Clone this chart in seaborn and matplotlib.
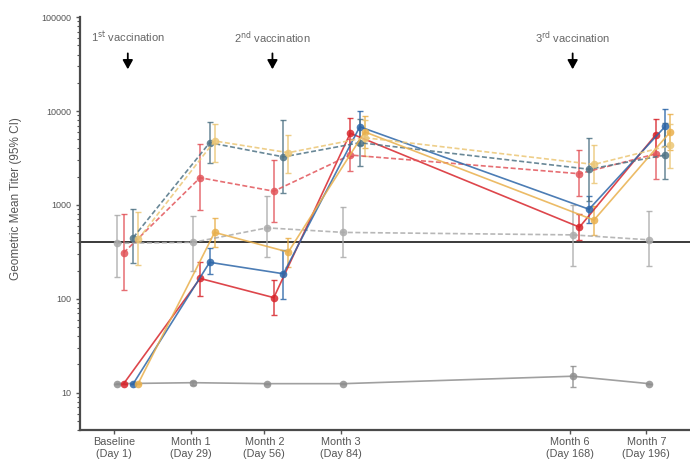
import matplotlib
matplotlib.use("Agg")
import matplotlib.pyplot as plt
from matplotlib.ticker import LogLocator, NullFormatter
import seaborn as sns
import pandas as pd
import numpy as np

sns.set_theme(style="ticks")
plt.rcParams["font.family"] = ["Liberation Sans", "DejaVu Sans"]

# Visit days and labels
days = [1, 29, 56, 84, 168, 196]
tick_labels = ["Baseline\n(Day 1)", "Month 1\n(Day 29)", "Month 2\n(Day 56)",
               "Month 3\n(Day 84)", "Month 6\n(Day 168)", "Month 7\n(Day 196)"]

# Geometric mean titers with 95% CI, baseline seronegative (solid lines)
placebo_neg = [12.5, 12.8, 12.5, 12.5, 15.0, 12.5]
placebo_neg_lo = [12.5, 12.0, 12.5, 12.5, 11.5, 12.5]
placebo_neg_hi = [12.5, 13.5, 12.5, 12.5, 19.5, 12.5]

red_neg = [12.5, 165, 103, 5800, 580, 5600]
red_neg_lo = [12.5, 108, 68, 3300, 420, 3400]
red_neg_hi = [12.5, 245, 160, 8400, 800, 8200]

blue_neg = [12.5, 245, 185, 6800, 900, 6900]
blue_neg_lo = [12.5, 185, 100, 4300, 640, 4200]
blue_neg_hi = [12.5, 350, 330, 10000, 1250, 10500]

gold_neg = [12.5, 510, 315, 6000, 690, 6000]
gold_neg_lo = [12.5, 360, 220, 4000, 480, 3800]
gold_neg_hi = [12.5, 730, 450, 8800, 980, 9300]

# Baseline seropositive (dashed lines)
placebo_pos = [390, 400, 570, 510, 480, 425]
placebo_pos_lo = [170, 200, 280, 280, 225, 225]
placebo_pos_hi = [780, 760, 1250, 950, 1000, 870]

red_pos = [310, 1950, 1400, 3400, 2150, 3500]
red_pos_lo = [125, 880, 660, 2300, 1250, 1900]
red_pos_hi = [800, 4500, 3000, 5000, 3800, 5800]

blue_pos = [450, 4600, 3250, 4600, 2400, 3400]
blue_pos_lo = [240, 2800, 1350, 2600, 1100, 1900]
blue_pos_hi = [900, 7700, 8000, 8200, 5200, 7500]

gold_pos = [430, 4800, 3600, 5200, 2700, 4300]
gold_pos_lo = [230, 2900, 2200, 3300, 1700, 2500]
gold_pos_hi = [850, 7200, 5600, 8000, 4300, 7200]

threshold = 400

series = [
    ("Placebo, seronegative", placebo_neg, placebo_neg_lo, placebo_neg_hi, "#8f8f8f", "-", 1.0),
    ("Placebo, seropositive", placebo_pos, placebo_pos_lo, placebo_pos_hi, "#ababab", "--", 1.0),
    ("Low dose, seronegative", red_neg, red_neg_lo, red_neg_hi, "#d8262c", "-", 3.5),
    ("Low dose, seropositive", red_pos, red_pos_lo, red_pos_hi, "#e2555a", "--", 3.5),
    ("Mid dose, seronegative", blue_neg, blue_neg_lo, blue_neg_hi, "#2d66a8", "-", 7.0),
    ("Mid dose, seropositive", blue_pos, blue_pos_lo, blue_pos_hi, "#4f7385", "--", 7.0),
    ("High dose, seronegative", gold_neg, gold_neg_lo, gold_neg_hi, "#e9b04c", "-", 8.8),
    ("High dose, seropositive", gold_pos, gold_pos_lo, gold_pos_hi, "#ebc675", "--", 8.8),
]

rows = []
for name, gmt, lo, hi, color, ls, off in series:
    for d, g, l, h in zip(days, gmt, lo, hi):
        rows.append({"series": name, "x": d + off, "gmt": g, "lo": l, "hi": h})
df = pd.DataFrame(rows)

palette = {s[0]: s[4] for s in series}
dashes = {s[0]: ("" if s[5] == "-" else (3, 1.5)) for s in series}

fig = plt.figure(figsize=(6.9, 4.63), dpi=100)
ax = fig.add_axes([0.116, 0.071, 0.884, 0.892])

ax.axhline(threshold, color="#3a3a3a", lw=1.4, zorder=1)

for name, gmt, lo, hi, color, ls, off in series:
    sub = df[df["series"] == name]
    ax.errorbar(sub["x"], sub["gmt"],
                yerr=[sub["gmt"] - sub["lo"], sub["hi"] - sub["gmt"]],
                fmt="none", ecolor=color, elinewidth=1.1, capsize=2.5,
                capthick=1.0, alpha=0.85, zorder=2)

sns.lineplot(data=df, x="x", y="gmt", hue="series", style="series",
             palette=palette, dashes=dashes, markers={s[0]: "o" for s in series},
             markersize=5.5, markeredgewidth=0, linewidth=1.2, alpha=0.85,
             sort=False, legend=False, ax=ax, zorder=3)

ax.set_yscale("log")
ax.set_ylim(4, 100000)
ax.set_xlim(-11.5, 212)
ax.set_yticks([10, 100, 1000, 10000, 100000])
ax.set_yticklabels(["10", "100", "1000", "10000", "100000"])
ax.yaxis.set_minor_locator(LogLocator(base=10, subs=np.arange(2, 10)))
ax.yaxis.set_minor_formatter(NullFormatter())
ax.set_xticks(days)
ax.set_xticklabels(tick_labels)
ax.tick_params(axis="y", labelsize=6.5, colors="#555555", length=3, width=1.0,
               labelcolor="#555555")
ax.tick_params(axis="x", labelsize=7.8, colors="#555555", length=3, width=1.0,
               labelcolor="#555555", pad=2)
ax.tick_params(axis="y", which="minor", length=2, width=0.8, colors="#555555")
ax.set_xlabel("")
ax.set_ylabel("Geometric Mean Titer (95% CI)", fontsize=8.5, color="#555555")
ax.yaxis.set_label_coords(-0.095, 0.56)

for side in ("top", "right"):
    ax.spines[side].set_visible(False)
for side in ("left", "bottom"):
    ax.spines[side].set_color("#4a4a4a")
    ax.spines[side].set_linewidth(1.6)

vaccinations = [(6, r"1$^{\mathrm{st}}$ vaccination"),
                (59, r"2$^{\mathrm{nd}}$ vaccination"),
                (169, r"3$^{\mathrm{rd}}$ vaccination")]
for xv, label in vaccinations:
    ax.text(xv, 61000, label, ha="center", va="center", fontsize=8, color="#666666")
    ax.annotate("", xy=(xv, 26000), xytext=(xv, 44000),
                arrowprops=dict(arrowstyle="-|>,head_width=0.25,head_length=0.45",
                                color="black", lw=1.3))

fig.savefig("out.png", dpi=100)
